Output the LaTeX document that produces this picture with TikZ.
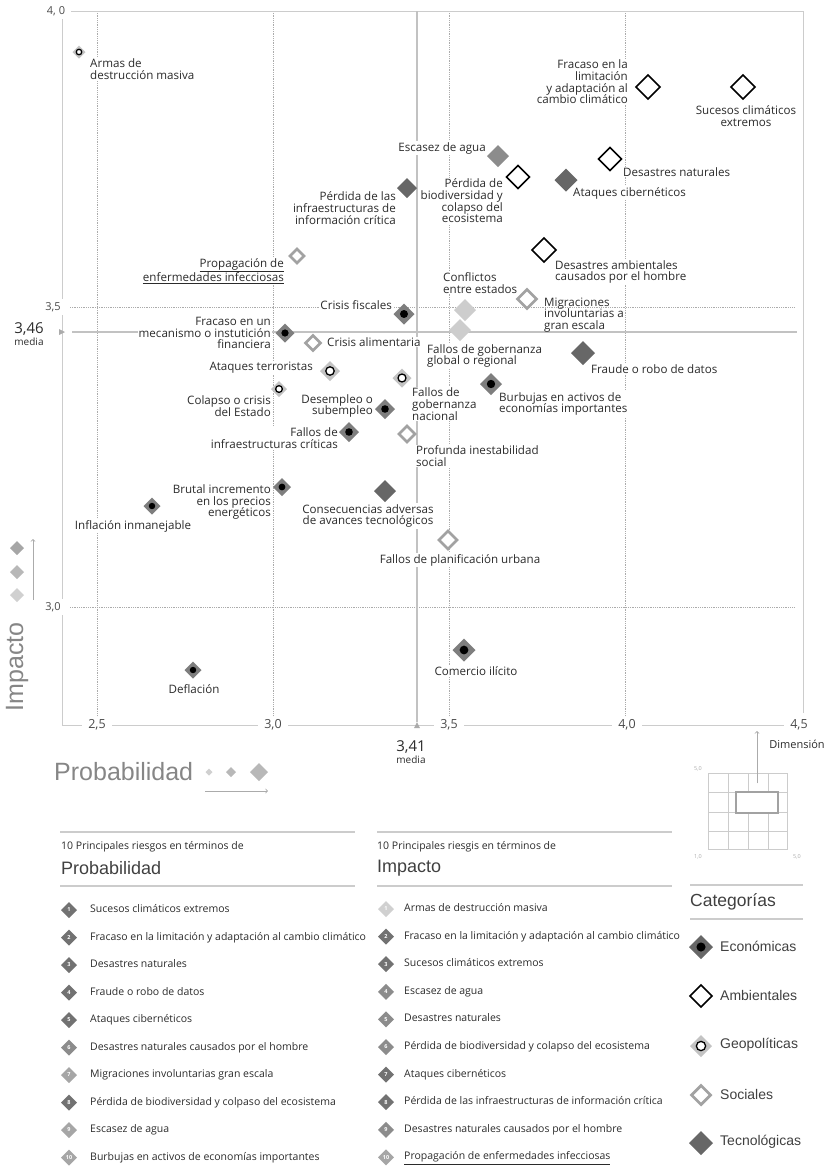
\documentclass[tikz,border=0pt]{standalone}
\usepackage{fontspec}
\setmainfont{Open Sans}
\newfontfamily\headfont{Liberation Sans}
\usepackage{xcolor}
\usepackage{tikz}
\usetikzlibrary{positioning,shapes.geometric}

\definecolor{ink}{HTML}{2B2B2B}
\definecolor{rule}{HTML}{CCCCCC}
\definecolor{dots}{HTML}{ABABAB}
\definecolor{econ}{HTML}{7E7E7E}
\definecolor{tecn}{HTML}{676767}
\definecolor{soci}{HTML}{A2A2A2}
\definecolor{geop}{HTML}{C3C3C3}
\definecolor{pale}{HTML}{CDCDCD}
\definecolor{agua}{HTML}{8C8C8C}
\definecolor{title}{HTML}{868686}
\definecolor{numdark}{HTML}{727272}
\definecolor{nummid}{HTML}{8C8C8C}
\definecolor{numlight}{HTML}{A6A6A6}
\definecolor{numpale}{HTML}{D0D0D0}

\begin{document}
\begin{tikzpicture}[x=1pt, y=-1pt,
    lbl/.style={font=\fontsize{11.6}{11.7}\selectfont, text=ink, fill=white, inner sep=1pt},
    tick/.style={font=\fontsize{11}{11}\selectfont, text=ink!85, fill=white, inner xsep=6pt, inner ysep=3pt},
    meanlbl/.style={font=\fontsize{15}{15}\selectfont, text=ink, inner sep=0pt},
    medlbl/.style={font=\fontsize{10}{10}\selectfont, text=ink, inner sep=0pt},
    gridline/.style={draw=dots, densely dotted, line width=0.8pt},
    axisline/.style={draw=rule, line width=1pt},
    meanline/.style={draw=rule!95!black, line width=1.1pt},
    thinarrow/.style={draw=dots, line width=0.8pt, ->},
    basemark/.style={diamond, inner sep=0pt, outer sep=0pt, minimum size=#1},
    ecomark/.style={basemark=#1, fill=econ,
      path picture={\fill[black] (path picture bounding box.center) circle [radius=0.19*#1pt];}},
    tecmark/.style={basemark=#1, fill=tecn},
    ambmark/.style={basemark=#1, fill=white, draw=black, line width=1.5pt},
    socmark/.style={basemark=#1, fill=white, draw=soci, line width=2.8pt},
    geomark/.style={basemark=#1, fill=geop,
      path picture={\draw[black, fill=white, line width=1.3pt] (path picture bounding box.center) circle [radius=0.21*#1pt];}},
    palemark/.style={basemark=#1, fill=pale},
    aguamark/.style={basemark=#1, fill=agua},
    nummark/.style={diamond, inner sep=0pt, outer sep=0pt, minimum size=16, fill=#1, text=white,
      font=\fontsize{5.5}{5.5}\selectfont\bfseries},
    itemtxt/.style={font=\fontsize{10.5}{12}\selectfont, text=ink, inner sep=0pt, text height=7.5pt, text depth=2.5pt},
    smallhead/.style={font=\fontsize{10.5}{12}\selectfont, text=ink, inner sep=0pt, anchor=west},
    tablehead/.style={font=\headfont\fontsize{18}{18}\selectfont, text=ink!90, inner sep=0pt, anchor=west},
    bigtitle/.style={font=\headfont\fontsize{25}{25}\selectfont, text=title, inner sep=0pt},
    keytxt/.style={font=\headfont\fontsize{14}{14}\selectfont, text=ink!90, inner sep=0pt, anchor=west},
    tinylbl/.style={font=\fontsize{5.5}{5.5}\selectfont, text=dots, inner sep=0pt}]

    \useasboundingbox (0,0) rectangle (827,1168);

    \draw[gridline] (97,11) -- (97,725);
    \draw[gridline] (273,11) -- (273,725);
    \draw[gridline] (449,11) -- (449,725);
    \draw[gridline] (625,11) -- (625,725);
    \draw[gridline] (70,307) -- (795,307);
    \draw[gridline] (70,607) -- (795,607);
    \draw[axisline] (62,725) -- (62,11) -- (803,11) -- (803,713);
    \draw[axisline] (62,725) -- (795,725);
    \draw[meanline] (417,11) -- (417,722);
    \draw[meanline] (72,332) -- (797,332);
    \fill[dots] (59,329) -- (65,332) -- (59,335) -- cycle;
    \fill[dots] (414,728) -- (417,722) -- (420,728) -- cycle;

    \node[tick] (y40) at (56,11) {4, 0};
    \node[tick] (y35) at (53,307) {3,5};
    \node[tick] (y30) at (53,607) {3,0};
    \node[tick, font=\fontsize{12.5}{12.5}\selectfont] (x25) at (97,725) {2,5};
    \node[tick, font=\fontsize{12.5}{12.5}\selectfont] (x30) at (273,725) {3,0};
    \node[tick, font=\fontsize{12.5}{12.5}\selectfont] (x35) at (449,725) {3,5};
    \node[tick, font=\fontsize{12.5}{12.5}\selectfont] (x40) at (627,725) {4,0};
    \node[tick, font=\fontsize{12.5}{12.5}\selectfont] (x45) at (799,725) {4,5};

    \node[meanlbl] (ym) at (29,329) {3,46};
    \node[medlbl, below=2pt of ym] (ymed) {media};
    \node[meanlbl] (xm) at (411,747) {3,41};
    \node[medlbl, below=2pt of xm] (xmed) {media};

    \node[lbl, anchor=west, align=left] (l1) at (89,69) {Armas de\\destrucción masiva};
    \node[lbl, anchor=east, align=right] (l2) at (397,208) {Pérdida de las\\infraestructuras de\\información crítica};
    \node[lbl, anchor=east, align=right] (l3) at (285,271) {\underline{Propagación de}\\\underline{enfermedades infecciosas}};
    \node[lbl, anchor=east] (l4) at (487,148) {Escasez de agua};
    \node[lbl, anchor=east, align=right] (l5) at (629,82) {Fracaso en la\\limitación\\y adaptación al\\cambio climático};
    \node[lbl, align=center] (l6) at (746,116) {Sucesos climáticos\\extremos};
    \node[lbl, anchor=west] (l7) at (622,172) {Desastres naturales};
    \node[lbl, anchor=east, align=right] (l8) at (504,201) {Pérdida de\\biodiversidad y\\colapso del\\ecosistema};
    \node[lbl, anchor=west] (l9) at (572,193) {Ataques cibernéticos};
    \node[lbl, anchor=west, align=left] (l10) at (554,272) {Desastres ambientales\\causados por el hombre};
    \node[lbl, anchor=west, align=left] (l11) at (442,283) {Conflictos\\entre estados};
    \node[lbl, anchor=west, align=left, fill=none] (l12) at (543,315) {Migraciones\\involuntarias a\\gran escala};
    \node[lbl, anchor=west, align=left] (l13) at (426,356) {Fallos de gobernanza\\global o regional};
    \node[lbl, anchor=west] (l14) at (590,369) {Fraude o robo de datos};
    \node[lbl, anchor=west, align=left] (l15) at (498,404) {Burbujas en activos de\\economías importantes};
    \node[lbl, anchor=west, align=left] (l16) at (411,404) {Fallos de\\gobernanza\\nacional};
    \node[lbl, anchor=west, align=left] (l17) at (415,456) {Profunda inestabilidad\\social};
    \node[lbl, anchor=east] (l18) at (393,305) {Crisis fiscales};
    \node[lbl, anchor=east, align=right] (l19) at (272,333) {Fracaso en un\\mecanismo o instutición\\financiera};
    \node[lbl, anchor=west] (l20) at (326,342) {Crisis alimentaria};
    \node[lbl, anchor=east] (l21) at (314,368) {Ataques terroristas};
    \node[lbl, anchor=east, align=right] (l22) at (272,406) {Colapso o crisis\\del Estado};
    \node[lbl, anchor=east, align=right] (l23) at (374,406) {Desempleo o\\subempleo};
    \node[lbl, anchor=east, align=right] (l24) at (339,438) {Fallos de\\infraestructuras críticas};
    \node[lbl, anchor=east, align=right] (l25) at (272,502) {Brutal incremento\\en los precios\\energéticos};
    \node[lbl] (l26) at (133,526) {Inflación inmanejable};
    \node[lbl, align=center] (l27) at (368,516) {Consecuencias adversas\\de avances tecnológicos};
    \node[lbl] (l28) at (460,560) {Fallos de planificación urbana};
    \node[lbl] (l29) at (476,671) {Comercio ilícito};
    \node[lbl] (l30) at (194,689) {Deflación};

    \node[geomark=13] (r1) at (79,52) {};
    \node[tecmark=20] (r2) at (407,188) {};
    \node[socmark=14] (r3) at (297,256) {};
    \node[aguamark=22] (r4) at (498,156) {};
    \node[ambmark=24] (r5) at (648,87) {};
    \node[ambmark=24] (r6) at (743,87) {};
    \node[ambmark=23] (r7) at (610,159) {};
    \node[ambmark=23] (r8) at (518,177) {};
    \node[tecmark=23] (r9) at (566,180) {};
    \node[ambmark=24] (r10) at (544,250) {};
    \node[palemark=22] (r11) at (465,310) {};
    \node[socmark=19] (r12) at (527,299) {};
    \node[palemark=22] (r13) at (460,330) {};
    \node[tecmark=24] (r14) at (583,353) {};
    \node[ecomark=22] (r15) at (491,384) {};
    \node[geomark=19] (r16) at (402,378) {};
    \node[socmark=16] (r17) at (407,434) {};
    \node[ecomark=21] (r18) at (404,314) {};
    \node[ecomark=19] (r19) at (285,333) {};
    \node[socmark=15] (r20) at (313,343) {};
    \node[geomark=20] (r21) at (330,371) {};
    \node[geomark=16] (r22) at (279,389) {};
    \node[ecomark=20] (r23) at (385,409) {};
    \node[ecomark=20] (r24) at (349,432) {};
    \node[ecomark=18] (r25) at (282,487) {};
    \node[ecomark=17] (r26) at (152,506) {};
    \node[tecmark=22] (r27) at (385,491) {};
    \node[socmark=18] (r28) at (448,540) {};
    \node[ecomark=23] (r29) at (464,650) {};
    \node[ecomark=17] (r30) at (193,670) {};

    \node[bigtitle, rotate=90] (imp) at (17,667) {Impacto};
    \node[basemark=14, fill=numlight] (id1) at (17,548) {};
    \node[basemark=14, fill=numlight!80] (id2) at (17,572) {};
    \node[basemark=14, fill=numpale] (id3) at (17,595) {};
    \coordinate (ia0) at (33,600);
    \coordinate (ia1) at (33,539);
    \draw[thinarrow] (ia0) -- (ia1);

    \node[bigtitle, anchor=west] (prob) at (54,772) {Probabilidad};
    \node[basemark=7, fill=numpale] (pd1) at (209,772) {};
    \node[basemark=10, fill=numlight!80] (pd2) at (231,772) {};
    \node[basemark=18, fill=numlight!80] (pd3) at (259,772) {};
    \coordinate (pa0) at (205,791);
    \coordinate (pa1) at (268,791);
    \draw[thinarrow] (pa0) -- (pa1);

    \node[font=\fontsize{11}{11}\selectfont, text=ink, inner sep=0pt] (dimlbl) at (797,744) {Dimensión};
    \draw[rule, line width=0.8pt] (708,773) rectangle (787,849);
    \draw[rule, line width=0.8pt] (728,773) -- (728,849) (748,773) -- (748,849) (768,773) -- (768,849);
    \draw[rule, line width=0.8pt] (708,792) -- (787,792) (708,812) -- (787,812) (708,831) -- (787,831);
    \node[draw=soci, line width=1.2pt, fill=white, minimum width=42, minimum height=21, inner sep=0pt] (dim) at (757,802.5) {};
    \coordinate (dimtip) at (757,731);
    \draw[thinarrow, shorten <=8pt] (dim) -- (dimtip);
    \node[tinylbl] (g50a) at (698,769) {5,0};
    \node[tinylbl] (g10) at (698,857) {1,0};
    \node[tinylbl] (g50b) at (797,857) {5,0};

    \draw[rule, line width=1.3pt] (60,832) -- (355,832);
    \node[smallhead] (ha1) at (61,847) {10 Principales riesgos en términos de};
    \node[tablehead] (ha2) at (61,868) {Probabilidad};
    \draw[rule, line width=1.3pt] (60,886) -- (355,886);

    \node[nummark=numdark] (p1) at (69,910) {1};
    \node[nummark=numdark, below=11.5pt of p1] (p2) {2};
    \node[nummark=numdark, below=11.5pt of p2] (p3) {3};
    \node[nummark=numdark, below=11.5pt of p3] (p4) {4};
    \node[nummark=numdark, below=11.5pt of p4] (p5) {5};
    \node[nummark=nummid, below=11.5pt of p5] (p6) {6};
    \node[nummark=numlight, below=11.5pt of p6] (p7) {7};
    \node[nummark=numdark, below=11.5pt of p7] (p8) {8};
    \node[nummark=numlight, below=11.5pt of p8] (p9) {9};
    \node[nummark=numlight, below=11.5pt of p9] (p10) {10};
    \node[itemtxt, right=13pt of p1] (pt1) {Sucesos climáticos extremos};
    \node[itemtxt, right=13pt of p2] (pt2) {Fracaso en la limitación y adaptación al cambio climático};
    \node[itemtxt, right=13pt of p3] (pt3) {Desastres naturales};
    \node[itemtxt, right=13pt of p4] (pt4) {Fraude o robo de datos};
    \node[itemtxt, right=13pt of p5] (pt5) {Ataques cibernéticos};
    \node[itemtxt, right=13pt of p6] (pt6) {Desastres naturales causados por el hombre};
    \node[itemtxt, right=13pt of p7] (pt7) {Migraciones involuntarias gran escala};
    \node[itemtxt, right=13pt of p8] (pt8) {Pérdida de biodiversidad y colpaso del ecosistema};
    \node[itemtxt, right=13pt of p9] (pt9) {Escasez de agua};
    \node[itemtxt, right=13pt of p10] (pt10) {Burbujas en activos de economías importantes};

    \draw[rule, line width=1.3pt] (377,832) -- (672,832);
    \node[smallhead] (hb1) at (377,847) {10 Principales riesgis en términos de};
    \node[tablehead] (hb2) at (377,868) {Impacto};
    \draw[rule, line width=1.3pt] (377,886) -- (672,886);

    \node[nummark=numpale] (i1) at (386,909) {1};
    \node[nummark=numdark, below=11.6pt of i1] (i2) {2};
    \node[nummark=numdark, below=11.6pt of i2] (i3) {3};
    \node[nummark=nummid, below=11.6pt of i3] (i4) {4};
    \node[nummark=nummid, below=11.6pt of i4] (i5) {5};
    \node[nummark=nummid, below=11.6pt of i5] (i6) {6};
    \node[nummark=numdark, below=11.6pt of i6] (i7) {7};
    \node[nummark=numdark, below=11.6pt of i7] (i8) {8};
    \node[nummark=nummid, below=11.6pt of i8] (i9) {9};
    \node[nummark=numlight, below=11.6pt of i9] (i10) {10};
    \node[itemtxt, right=10pt of i1] (it1) {Armas de destrucción masiva};
    \node[itemtxt, right=10pt of i2] (it2) {Fracaso en la limitación y adaptación al cambio climático};
    \node[itemtxt, right=10pt of i3] (it3) {Sucesos climáticos extremos};
    \node[itemtxt, right=10pt of i4] (it4) {Escasez de agua};
    \node[itemtxt, right=10pt of i5] (it5) {Desastres naturales};
    \node[itemtxt, right=10pt of i6] (it6) {Pérdida de biodiversidad y colapso del ecosistema};
    \node[itemtxt, right=10pt of i7] (it7) {Ataques cibernéticos};
    \node[itemtxt, right=10pt of i8] (it8) {Pérdida de las infraestructuras de información crítica};
    \node[itemtxt, right=10pt of i9] (it9) {Desastres naturales causados por el hombre};
    \node[itemtxt, right=10pt of i10] (it10) {\underline{Propagación de enfermedades infecciosas}};

    \draw[rule, line width=1.5pt] (690,885) -- (803,885);
    \node[keytxt, font=\headfont\fontsize{17.5}{17.5}\selectfont] (cat) at (690,902) {Categorías};
    \draw[rule, line width=1.5pt] (690,919) -- (803,919);

    \node[ecomark=24, fill=tecn] (k1) at (701,947) {};
    \node[ambmark=22] (k2) at (701,996) {};
    \node[geomark=22] (k3) at (701,1046) {};
    \node[socmark=19] (k4) at (701,1095) {};
    \node[tecmark=24] (k5) at (701,1143) {};
    \node[keytxt] (kt1) at (720,946) {Económicas};
    \node[keytxt] (kt2) at (720,995) {Ambientales};
    \node[keytxt] (kt3) at (720,1045) {Geopolíticas};
    \node[keytxt] (kt4) at (720,1094) {Sociales};
    \node[keytxt] (kt5) at (720,1142) {Tecnológicas};
  \end{tikzpicture}
\end{document}
